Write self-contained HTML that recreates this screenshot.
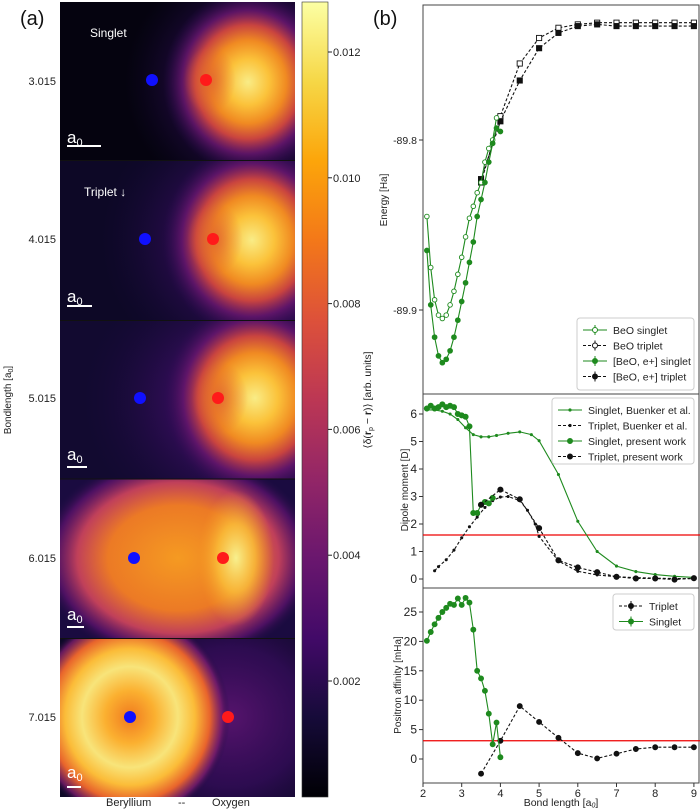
<!DOCTYPE html>
<html><head><meta charset="utf-8"><style>
html,body{margin:0;padding:0;background:#fff;width:700px;height:810px;overflow:hidden;}
svg{display:block;font-family:"Liberation Sans",sans-serif;overflow:visible;}
</style></head><body>
<svg id="fig" width="700" height="810" viewBox="0 0 700 810">
<defs>
<linearGradient id="cbar" x1="0" y1="1" x2="0" y2="0">
<stop offset="0" stop-color="#000004"/><stop offset="0.1" stop-color="#160b39"/><stop offset="0.2" stop-color="#420a68"/><stop offset="0.3" stop-color="#6a176e"/><stop offset="0.4" stop-color="#932667"/><stop offset="0.5" stop-color="#bc3754"/><stop offset="0.6" stop-color="#dd513a"/><stop offset="0.7" stop-color="#f37819"/><stop offset="0.8" stop-color="#fca50a"/><stop offset="0.9" stop-color="#f6d746"/><stop offset="1" stop-color="#fcffa4"/>
</linearGradient>
<radialGradient id="haze"><stop offset="0" stop-color="#5a1470" stop-opacity="0.95"/><stop offset="0.5" stop-color="#3a0d62" stop-opacity="0.7"/><stop offset="1" stop-color="#160b39" stop-opacity="0"/></radialGradient>
<radialGradient id="blob"><stop offset="0" stop-color="#f9ec86"/><stop offset="0.25" stop-color="#fbc23a"/><stop offset="0.45" stop-color="#f08a22"/><stop offset="0.62" stop-color="#c9443f"/><stop offset="0.78" stop-color="#6a176e" stop-opacity="0.8"/><stop offset="1" stop-color="#2c0b50" stop-opacity="0"/></radialGradient>
<radialGradient id="orangeb"><stop offset="0" stop-color="#f59a22"/><stop offset="0.5" stop-color="#ec7a25"/><stop offset="0.72" stop-color="#c0405a"/><stop offset="0.88" stop-color="#5a126b" stop-opacity="0.8"/><stop offset="1" stop-color="#1c0c40" stop-opacity="0"/></radialGradient>
<radialGradient id="yel"><stop offset="0" stop-color="#f8f08e"/><stop offset="0.5" stop-color="#fbc23a" stop-opacity="0.8"/><stop offset="1" stop-color="#f59a22" stop-opacity="0"/></radialGradient>
<radialGradient id="ring"><stop offset="0" stop-color="#f07a1f"/><stop offset="0.25" stop-color="#fbb030"/><stop offset="0.48" stop-color="#f8e47a"/><stop offset="0.65" stop-color="#fbbc38"/><stop offset="0.8" stop-color="#e8642c"/><stop offset="0.92" stop-color="#7a1d6c" stop-opacity="0.8"/><stop offset="1" stop-color="#1c0c40" stop-opacity="0"/></radialGradient>
<radialGradient id="dim"><stop offset="0" stop-color="#e06030" stop-opacity="0.8"/><stop offset="1" stop-color="#e06030" stop-opacity="0"/></radialGradient>
<clipPath id="c1"><rect x="60" y="2" width="235" height="158"/></clipPath>
<clipPath id="c2"><rect x="60" y="161" width="235" height="159"/></clipPath>
<clipPath id="c3"><rect x="60" y="321" width="235" height="158"/></clipPath>
<clipPath id="c4"><rect x="60" y="479" width="235" height="159"/></clipPath>
<clipPath id="c5"><rect x="60" y="639" width="235" height="158"/></clipPath>
<clipPath id="pe"><rect x="423" y="5" width="277" height="389"/></clipPath>
<clipPath id="pd"><rect x="423" y="394" width="277" height="194"/></clipPath>
<clipPath id="pa"><rect x="423" y="588" width="277" height="195"/></clipPath>
</defs>

<g>
<g clip-path="url(#c1)">
<rect x="60" y="2" width="235" height="158" fill="#05030f"/>
<ellipse cx="265" cy="82" rx="140" ry="130" fill="url(#haze)"/>
<ellipse cx="248" cy="82" rx="85" ry="92" fill="url(#blob)"/>
<ellipse cx="210" cy="80" rx="26" ry="34" fill="url(#dim)"/>
<circle cx="152" cy="80" r="6" fill="#1010ff"/><circle cx="206" cy="80" r="6" fill="#ff1a1a"/>
</g>
<g clip-path="url(#c2)">
<rect x="60" y="161" width="235" height="159" fill="#0d0826"/>
<ellipse cx="270" cy="240" rx="170" ry="150" fill="url(#haze)"/>
<ellipse cx="252" cy="240" rx="90" ry="98" fill="url(#blob)"/>
<ellipse cx="215" cy="239" rx="28" ry="36" fill="url(#dim)"/>
<circle cx="145" cy="239" r="6" fill="#1010ff"/><circle cx="213" cy="239" r="6" fill="#ff1a1a"/>
</g>
<g clip-path="url(#c3)">
<rect x="60" y="321" width="235" height="158" fill="#120a30"/>
<ellipse cx="260" cy="400" rx="180" ry="150" fill="url(#haze)"/>
<ellipse cx="255" cy="398" rx="92" ry="100" fill="url(#blob)"/>
<ellipse cx="220" cy="398" rx="28" ry="36" fill="url(#dim)"/>
<circle cx="140" cy="398" r="6" fill="#1010ff"/><circle cx="218" cy="398" r="6" fill="#ff1a1a"/>
</g>
<g clip-path="url(#c4)">
<rect x="60" y="479" width="235" height="159" fill="#1a0b40"/>
<ellipse cx="178" cy="558" rx="140" ry="105" fill="url(#orangeb)"/>
<ellipse cx="236" cy="558" rx="38" ry="68" fill="url(#yel)"/>
<circle cx="134" cy="558" r="6" fill="#1010ff"/><circle cx="223" cy="558" r="6" fill="#ff1a1a"/>
</g>
<g clip-path="url(#c5)">
<rect x="60" y="639" width="235" height="158" fill="#0d0826"/>
<ellipse cx="230" cy="717" rx="150" ry="140" fill="url(#haze)"/>
<ellipse cx="130" cy="717" rx="100" ry="105" fill="url(#ring)"/>
<circle cx="130" cy="717" r="6" fill="#1010ff"/><circle cx="228" cy="717" r="6" fill="#ff1a1a"/>
</g>
<line x1="60" y1="160.5" x2="295" y2="160.5" stroke="#111" stroke-width="1"/>
<line x1="60" y1="320.5" x2="295" y2="320.5" stroke="#111" stroke-width="1"/>
<line x1="60" y1="479" x2="295" y2="479" stroke="#111" stroke-width="1"/>
<line x1="60" y1="638.5" x2="295" y2="638.5" stroke="#111" stroke-width="1"/>
</g>
<g fill="#fff" font-size="12">
<text x="90" y="37">Singlet</text>
<text x="84" y="196">Triplet  ↓</text>
<g font-size="17">
<text x="67" y="143">a<tspan font-size="11" dy="3">0</tspan></text>
<text x="67" y="302">a<tspan font-size="11" dy="3">0</tspan></text>
<text x="67" y="460">a<tspan font-size="11" dy="3">0</tspan></text>
<text x="67" y="620">a<tspan font-size="11" dy="3">0</tspan></text>
<text x="67" y="778">a<tspan font-size="11" dy="3">0</tspan></text>
</g>
<g stroke="#fff" stroke-width="2">
<line x1="67" y1="146" x2="101" y2="146"/><line x1="67" y1="306" x2="92" y2="306"/><line x1="67" y1="467" x2="87" y2="467"/><line x1="67" y1="627" x2="84" y2="627"/><line x1="67" y1="787" x2="81" y2="787"/>
</g>
</g>
<g font-size="11" fill="#222" text-anchor="end">
<text x="56" y="85">3.015</text><text x="56" y="243">4.015</text><text x="56" y="402">5.015</text><text x="56" y="562">6.015</text><text x="56" y="721">7.015</text>
</g>
<text x="0" y="0" font-size="10" fill="#222" text-anchor="middle" transform="translate(11,400) rotate(-90)">Bondlength [a<tspan font-size="7" dy="2">0</tspan><tspan dy="-2">]</tspan></text>
<text x="20" y="25" font-size="20" fill="#111">(a)</text>
<g font-size="11" fill="#222">
<text x="106" y="806">Beryllium</text><text x="178" y="806">--</text><text x="212" y="806">Oxygen</text>
</g>

<g>
<rect x="302" y="2" width="26" height="795" fill="url(#cbar)" stroke="#333" stroke-width="0.6"/>
<g id="cbticks" font-size="11" fill="#222"></g>
<text x="0" y="0" font-size="10.5" fill="#222" text-anchor="middle" transform="translate(371,400) rotate(-90)">⟨δ(<tspan font-weight="bold">r</tspan><tspan font-size="7" dy="2">p</tspan><tspan dy="-2"> − </tspan><tspan font-weight="bold">r</tspan>)⟩ [arb. units]</text>
</g>

<text x="373" y="25" font-size="20" fill="#111">(b)</text>
<g id="energy"></g>
<g id="dipole"></g>
<g id="affinity"></g>
<g id="xaxis"></g>
</svg>
<script>
const cbTicks = [0.002, 0.004, 0.006, 0.008, 0.010, 0.012];
const beoSingletX = [2.1,2.2,2.3,2.4,2.5,2.6,2.7,2.8,2.9,3.0,3.1,3.2,3.3,3.4,3.5,3.6,3.7,3.8,3.9];
const beoSingletE = [-89.845,-89.875,-89.894,-89.903,-89.905,-89.903,-89.897,-89.889,-89.879,-89.869,-89.857,-89.846,-89.839,-89.831,-89.825,-89.813,-89.805,-89.800,-89.787];
const tripX = [3.5,4.0,4.5,5.0,5.5,6.0,6.5,7.0,7.5,8.0,8.5,9.0];
const beoTripletE = [-89.825,-89.786,-89.755,-89.740,-89.734,-89.732,-89.731,-89.731,-89.731,-89.731,-89.731,-89.731];
const posSingletX = [2.1,2.2,2.3,2.4,2.5,2.6,2.7,2.8,2.9,3.0,3.1,3.2,3.3,3.4,3.5,3.6,3.7,3.8,3.9,4.0];
const posSingletE = [-89.865,-89.897,-89.916,-89.927,-89.931,-89.929,-89.924,-89.916,-89.906,-89.895,-89.884,-89.872,-89.860,-89.845,-89.835,-89.825,-89.813,-89.802,-89.793,-89.795];
const posTripletE = [-89.823,-89.789,-89.765,-89.746,-89.737,-89.733,-89.732,-89.733,-89.733,-89.733,-89.733,-89.733];
const energyTicks = [-89.9, -89.8];
const buenkerSX = [2.1,2.3,2.5,2.7,2.9,3.1,3.3,3.5,3.7,3.9,4.2,4.5,4.8,5.0,5.5,6.0,6.5,7.0,7.5,8.0,8.5,9.0];
const buenkerSD = [6.15,6.15,6.1,6.0,5.8,5.5,5.25,5.17,5.17,5.22,5.3,5.35,5.25,5.03,3.8,2.1,1.0,0.47,0.27,0.16,0.1,0.06];
const buenkerTX = [2.3,2.4,2.6,2.8,3.0,3.2,3.4,3.6,3.8,4.0,4.2,4.5,4.7,4.9,5.0,5.5,6.0,6.5,7.0,7.5,8.0,8.5,9.0];
const buenkerTD = [0.3,0.45,0.7,1.05,1.5,1.9,2.25,2.6,2.85,2.98,3.0,2.85,2.5,2.0,1.55,0.65,0.28,0.15,0.08,0.05,0.03,0.02,0.01];
const presentSX = [2.1,2.2,2.3,2.4,2.5,2.6,2.7,2.8,2.9,3.0,3.1,3.2,3.3,3.4,3.5,3.6,3.7,3.8];
const presentSD = [6.2,6.3,6.2,6.25,6.35,6.25,6.3,6.25,6.0,5.95,5.9,5.55,2.4,2.4,2.7,2.8,2.75,2.95];
const presentTX = [3.5,4.0,4.5,5.0,5.5,6.0,6.5,7.0,7.5,8.0,8.5,9.0];
const presentTD = [2.7,3.25,2.9,1.85,0.68,0.42,0.25,0.08,0.02,0.02,-0.02,0.03];
const dipoleRef = 1.6;
const dipoleTicks = [0,1,2,3,4,5,6];
const affSX = [2.1,2.2,2.3,2.4,2.5,2.6,2.7,2.8,2.9,3.0,3.1,3.2,3.3,3.4,3.5,3.6,3.7,3.8,3.9,4.0];
const affS = [20.1,21.6,22.9,24.0,25.0,25.7,26.4,26.2,27.3,26.2,27.4,26.6,22.0,15.0,13.7,11.6,7.7,2.5,6.2,0.3];
const affTX = [3.5,4.0,4.5,5.0,5.5,6.0,6.5,7.0,7.5,8.0,8.5,9.0];
const affT = [-2.5,3.1,9.0,6.3,3.6,1.0,0.1,0.9,1.7,2.0,2.0,2.0];
const affRef = 3.1;
const affTicks = [0,5,10,15,20,25];
const xTicks = [2,3,4,5,6,7,8,9];

const NS = 'http://www.w3.org/2000/svg';
function mk(parent, tag, attrs, txt) {
  const e = document.createElementNS(NS, tag);
  for (const k in attrs) e.setAttribute(k, attrs[k]);
  if (txt !== undefined) e.textContent = txt;
  parent.appendChild(e);
  return e;
}
const GREEN = '#1e8a1e';
const X0 = 423, X1 = 700;
const xs = v => 423 + (v - 2) * 38.7;
function lin(d0, d1, p0, p1) { return v => p0 + (v - d0) * (p1 - p0) / (d1 - d0); }

const cbY = lin(0.002, 0.012, 681, 52);
const cbG = document.getElementById('cbticks');
cbTicks.forEach(t => {
  const y = cbY(t);
  const l = mk(cbG, 'line', {x1: 328, x2: 332, y1: y, y2: y, stroke: '#222'});
  
  
  const tx = mk(cbG, 'text', {x: 333, y: y + 4}, t.toFixed(3));
  
  
});

function frame(g, top, bot, clip) {
  const r = mk(g, 'rect', {x: X0, y: top, width: X1 - X0 - 1, height: bot - top, fill: 'none', stroke: '#444', 'stroke-width': 1});
  
  
  return mk(g, 'g', {'clip-path': 'url(#' + clip + ')'});
}
function yTicks(g, ticks, ys, fmt) {
  ticks.forEach(t => {
    const y = ys(t);
    mk(g, 'line', {x1: X0 - 4, x2: X0, y1: y, y2: y, stroke: '#333'});
    const tx = mk(g, 'text', {x: X0 - 6, y: y + 4, 'font-size': fmt ? 10.5 : 12, 'text-anchor': 'end', fill: '#222'}, fmt ? fmt(t) : String(t));
    
    
  });
}
function series(g, X, Y, ys, o, name) {
  const pts = X.map((x, i) => xs(x).toFixed(1) + ',' + ys(Y[i]).toFixed(1)).join(' ');
  const pl = mk(g, 'polyline', {points: pts, fill: 'none', stroke: o.color, 'stroke-width': 1.1, 'stroke-dasharray': o.dash || 'none'});
  
  
  X.forEach((x, i) => {
    const cx = xs(x), cy = ys(Y[i]);
    let m;
    if (o.marker === 'square') {
      m = mk(g, 'rect', {x: cx - 2.6, y: cy - 2.6, width: 5.2, height: 5.2, fill: o.fill, stroke: o.color, 'stroke-width': 0.9});
    } else {
      m = mk(g, 'circle', {cx: cx, cy: cy, r: o.r || 2.5, fill: o.fill, stroke: o.color, 'stroke-width': 0.9});
    }
    
    
  });
}
function legend(g, x, y, w, h, entries) {
  const lg = mk(g, 'g', {});
  
  
  mk(lg, 'rect', {x: x, y: y, width: w, height: h, rx: 3, fill: '#fff', 'fill-opacity': 0.85, stroke: '#ccc'});
  entries.forEach((e, i) => {
    const yy = y + 12 + i * 15.5;
    mk(lg, 'line', {x1: x + 6, x2: x + 30, y1: yy, y2: yy, stroke: e.color, 'stroke-width': 1.1, 'stroke-dasharray': e.dash || 'none'});
    if (e.err) mk(lg, 'line', {x1: x + 18, x2: x + 18, y1: yy - 5, y2: yy + 5, stroke: e.color, 'stroke-width': 1});
    if (e.marker === 'square') mk(lg, 'rect', {x: x + 15.5, y: yy - 2.5, width: 5, height: 5, fill: e.fill, stroke: e.color});
    else mk(lg, 'circle', {cx: x + 18, cy: yy, r: e.r || 2.5, fill: e.fill, stroke: e.color});
    const t = mk(lg, 'text', {x: x + 36, y: yy + 4, 'font-size': 10.5, fill: '#222'}, e.label);
    
    
  });
}

(function () {
  const g = document.getElementById('energy');
  const ys = lin(-89.8, -89.9, 140, 310);
  const c = frame(g, 5, 394, 'pe');
  series(c, tripX, beoTripletE, ys, {color: '#111', dash: '3,2', marker: 'square', fill: '#fff'}, 'beo-triplet');
  series(c, tripX, posTripletE, ys, {color: '#111', dash: '3,2', marker: 'square', fill: '#111'}, 'pos-triplet');
  series(c, beoSingletX, beoSingletE, ys, {color: GREEN, fill: '#fff', r: 2.3}, 'beo-singlet');
  series(c, posSingletX, posSingletE, ys, {color: GREEN, fill: GREEN, r: 2.4}, 'pos-singlet');
  yTicks(g, energyTicks, ys, t => t.toFixed(1));
  const at = mk(g, 'text', {x: 0, y: 0, 'font-size': 10, fill: '#222', 'text-anchor': 'middle', transform: 'translate(387,200) rotate(-90)'}, 'Energy [Ha]');
  
  
  legend(g, 577, 318, 117, 72, [
    {label: 'BeO singlet', color: GREEN, fill: '#fff', err: true},
    {label: 'BeO triplet', color: '#111', fill: '#fff', dash: '3,2', err: true},
    {label: '[BeO, e+] singlet', color: GREEN, fill: GREEN, err: true},
    {label: '[BeO, e+] triplet', color: '#111', fill: '#111', dash: '3,2', err: true}
  ]);
})();

(function () {
  const g = document.getElementById('dipole');
  const ys = lin(0, 6, 579, 414);
  const c = frame(g, 394, 588, 'pd');
  const rl = mk(c, 'line', {x1: X0, x2: X1, y1: ys(dipoleRef), y2: ys(dipoleRef), stroke: '#e00', 'stroke-width': 1.2});
  
  
  series(c, buenkerSX, buenkerSD, ys, {color: GREEN, fill: GREEN, r: 1.1}, 'buenker-singlet');
  series(c, buenkerTX, buenkerTD, ys, {color: '#111', dash: '3,2', fill: '#111', r: 1.1}, 'buenker-triplet');
  series(c, presentSX, presentSD, ys, {color: GREEN, fill: GREEN, r: 2.6}, 'present-singlet');
  series(c, presentTX, presentTD, ys, {color: '#111', dash: '3,2', fill: '#111', r: 2.6}, 'present-triplet');
  yTicks(g, dipoleTicks, ys);
  const at = mk(g, 'text', {x: 0, y: 0, 'font-size': 10, fill: '#222', 'text-anchor': 'middle', transform: 'translate(408,490) rotate(-90)'}, 'Dipole moment [D]');
  
  
  legend(g, 552, 398, 142, 66, [
    {label: 'Singlet, Buenker et al.', color: GREEN, fill: GREEN, r: 1.1},
    {label: 'Triplet, Buenker et al.', color: '#111', fill: '#111', dash: '3,2', r: 1.1},
    {label: 'Singlet, present work', color: GREEN, fill: GREEN},
    {label: 'Triplet, present work', color: '#111', fill: '#111', dash: '3,2'}
  ]);
})();

(function () {
  const g = document.getElementById('affinity');
  const ys = lin(0, 25, 759, 612);
  const c = frame(g, 588, 783, 'pa');
  const rl = mk(c, 'line', {x1: X0, x2: X1, y1: ys(affRef), y2: ys(affRef), stroke: '#e00', 'stroke-width': 1.2});
  
  
  series(c, affTX, affT, ys, {color: '#111', dash: '3,2', fill: '#111', r: 2.5}, 'triplet-affinity');
  series(c, affSX, affS, ys, {color: GREEN, fill: GREEN, r: 2.5}, 'singlet-affinity');
  yTicks(g, affTicks, ys);
  const at = mk(g, 'text', {x: 0, y: 0, 'font-size': 10, fill: '#222', 'text-anchor': 'middle', transform: 'translate(401,685) rotate(-90)'}, 'Positron affinity [mHa]');
  
  
  legend(g, 613, 594, 81, 36, [
    {label: 'Triplet', color: '#111', fill: '#111', dash: '3,2', err: true},
    {label: 'Singlet', color: GREEN, fill: GREEN, err: true}
  ]);
})();

(function () {
  const g = document.getElementById('xaxis');
  xTicks.forEach(t => {
    const x = xs(t);
    mk(g, 'line', {x1: x, x2: x, y1: 783, y2: 787, stroke: '#333'});
    const tx = mk(g, 'text', {x: x, y: 797, 'font-size': 11, 'text-anchor': 'middle', fill: '#222'}, String(t));
    
    
  });
  const xt = mk(g, 'text', {x: 561, y: 806, 'font-size': 10.5, 'text-anchor': 'middle', fill: '#222'}, 'Bond length [a');
  
  
  mk(xt, 'tspan', {'font-size': 7, dy: 1.5, 'font-style': 'italic'}, '0');
  mk(xt, 'tspan', {dy: -1.5}, ']');
})();
</script>
</body></html>
